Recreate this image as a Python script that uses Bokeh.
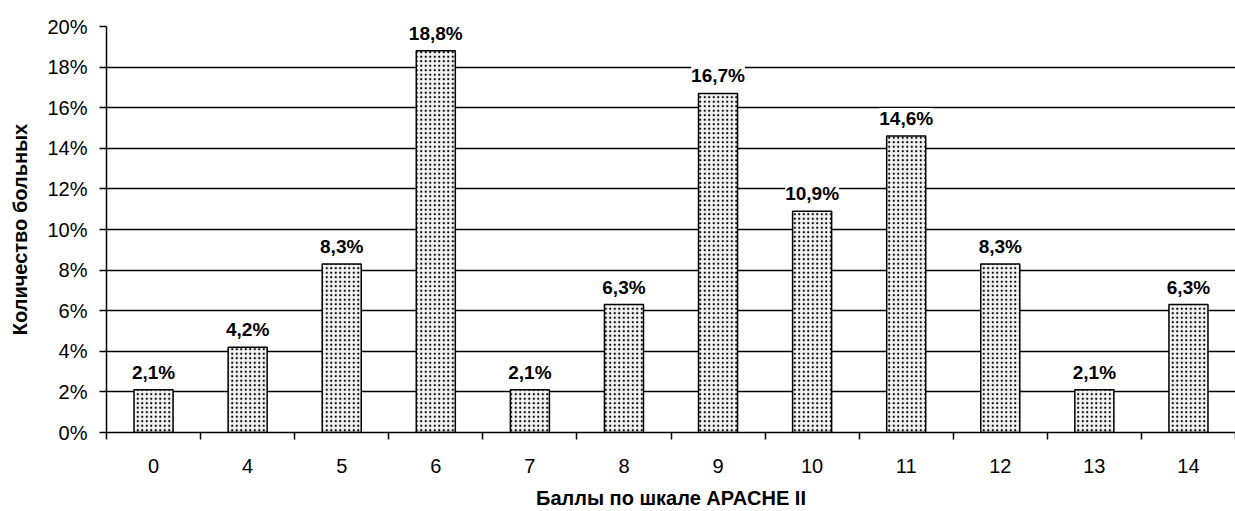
from bokeh.plotting import figure
from bokeh.models import ColumnDataSource, FixedTicker, LabelSet, PrintfTickFormatter, Range1d
from bokeh.core.properties import value
from bokeh.embed import file_html
from bokeh.resources import INLINE

categories = ["0", "4", "5", "6", "7", "8", "9", "10", "11", "12", "13", "14"]
values = [2.1, 4.2, 8.3, 18.8, 2.1, 6.3, 16.7, 10.9, 14.6, 8.3, 2.1, 6.3]
y_ticks = [0, 2, 4, 6, 8, 10, 12, 14, 16, 18, 20]

xs = list(range(len(categories)))
labels = [f"{v:.1f}".replace(".", ",") + "%" for v in values]
src = ColumnDataSource(dict(x=xs, top=values, label=labels))

FONT = "Liberation Sans"
p = figure(width=1235, height=511, output_backend="svg", toolbar_location=None,
           x_range=Range1d(-0.5, len(categories) - 0.5), y_range=Range1d(0, 20),
           min_border_left=106, min_border_right=0, min_border_top=26, min_border_bottom=78)
p.outline_line_color = None
p.background_fill_color = "white"

# grid
p.xgrid.grid_line_color = None
p.ygrid.grid_line_color = "black"
p.ygrid.grid_line_width = 1.5
p.ygrid.ticker = FixedTicker(ticks=y_ticks)

p.vbar(x="x", top="top", bottom=0, width=0.415, source=src,
       fill_color="#f4f4f4", line_color="black", line_width=1.5,
       hatch_pattern="dot", hatch_color="black", hatch_scale=4.5, hatch_weight=4)

lab = LabelSet(x="x", y="top", text="label", source=src, text_align="center",
               text_baseline="bottom", y_offset=7, text_font=value(FONT),
               text_font_size=value("19px"), text_font_style=value("bold"),
               text_color=value("black"),
               background_fill_color="white")
p.add_layout(lab)

# x axis
p.xaxis.ticker = FixedTicker(ticks=xs, minor_ticks=[i - 0.5 for i in range(len(categories) + 1)])
p.xaxis.major_label_overrides = {i: c for i, c in enumerate(categories)}
p.xaxis.major_tick_out = 0
p.xaxis.major_tick_in = 0
p.xaxis.minor_tick_out = 7
p.xaxis.minor_tick_in = 0
p.xaxis.minor_tick_line_color = "black"
p.xaxis.minor_tick_line_width = 1.5
p.xaxis.axis_line_color = "black"
p.xaxis.axis_line_width = 1.5
p.xaxis.major_label_standoff = 19
p.xaxis.major_label_text_font = FONT
p.xaxis.major_label_text_font_size = "20px"
p.xaxis.major_label_text_color = "black"
p.xaxis.axis_label = "Баллы по шкале APACHE II"
p.xaxis.axis_label_text_font = FONT
p.xaxis.axis_label_text_font_size = "20px"
p.xaxis.axis_label_text_font_style = "bold"
p.xaxis.axis_label_text_color = "black"
p.xaxis.axis_label_standoff = 11

# y axis
p.yaxis.ticker = FixedTicker(ticks=y_ticks)
p.yaxis.formatter = PrintfTickFormatter(format="%d%%")
p.yaxis.major_tick_out = 7
p.yaxis.major_tick_in = 0
p.yaxis.minor_tick_line_color = None
p.yaxis.major_tick_line_color = "black"
p.yaxis.major_tick_line_width = 1.5
p.yaxis.axis_line_color = "black"
p.yaxis.axis_line_width = 1.5
p.yaxis.major_label_standoff = 12
p.yaxis.major_label_text_font = FONT
p.yaxis.major_label_text_font_size = "20px"
p.yaxis.major_label_text_color = "black"
p.yaxis.axis_label = "Количество больных"
p.yaxis.axis_label_text_font = FONT
p.yaxis.axis_label_text_font_size = "20px"
p.yaxis.axis_label_text_font_style = "bold"
p.yaxis.axis_label_text_color = "black"
p.yaxis.axis_label_standoff = 13

open("out.html", "w").write(file_html(p, INLINE))
